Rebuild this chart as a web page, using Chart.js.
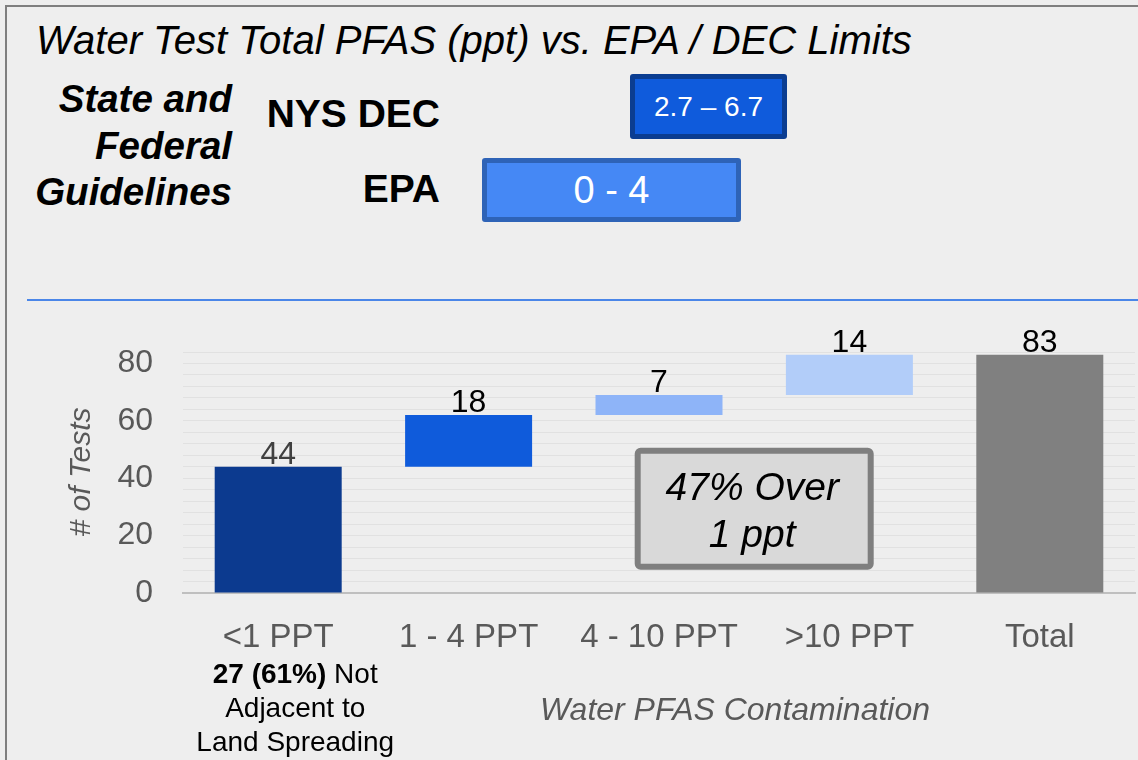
<!DOCTYPE html>
<html>
<head>
<meta charset="utf-8">
<title>Water Test Total PFAS</title>
<script src="https://cdn.jsdelivr.net/npm/chart.js@4/dist/chart.umd.min.js"></script>
<style>
  html, body { margin: 0; padding: 0; background: #eeeeee; }
  body { width: 1138px; height: 760px; position: relative; overflow: hidden;
         font-family: "Liberation Sans", Arial, sans-serif; }
  #frame { position: absolute; left: 5px; top: 5px; width: 1200px; height: 800px;
           border: 2px solid #7f7f7f; box-sizing: border-box; }
  #chart { position: absolute; left: 0; top: 0; }
  .txt { position: absolute; white-space: nowrap; color: #000; }
  #title { left: 36px; top: 20px; font-size: 40px; line-height: 40px; font-style: italic; }
  #guide { right: 906px; top: 76px; font-size: 38.5px; line-height: 46.5px;
           font-weight: bold; font-style: italic; text-align: right; }
  .agency { right: 698px; font-size: 39px; line-height: 39px; font-weight: bold; }
  .range { position: absolute; box-sizing: border-box; border-radius: 3px; color: #fff;
           display: flex; align-items: center; justify-content: center; }
  #decBox { left: 630px; top: 74px; width: 157px; height: 65px; border: 5px solid #0b3d91;
            background: #0f5bdc; font-size: 28px; }
  #epaBox { left: 482px; top: 158px; width: 259px; height: 64px; border: 5px solid #2e63b7;
            background: #4588f5; font-size: 38px; }
  #divider { position: absolute; left: 27px; top: 299px; width: 1111px; height: 2px; background: #4a86e8; }
</style>
</head>
<body>
<div id="frame"></div>
<div id="title" class="txt">Water Test Total PFAS (ppt) vs. EPA / DEC Limits</div>
<div id="guide" class="txt">State and<br>Federal<br>Guidelines</div>
<div class="txt agency" style="top:94px">NYS DEC</div>
<div class="txt agency" style="top:169px">EPA</div>
<div id="decBox" class="range">2.7 – 6.7</div>
<div id="epaBox" class="range">0 - 4</div>
<div id="divider"></div>
<canvas id="chart" width="1138" height="760"></canvas>

<script>
// Données du graphique en cascade
const categories = ['<1 PPT', '1 - 4 PPT', '4 - 10 PPT', '>10 PPT', 'Total'];
const testCounts = [44, 18, 7, 14, 83];
const isTotal = [false, false, false, false, true];
const yTickLabels = [0, 20, 40, 60, 80];
const noteBold = '27 (61%)';
const noteLines = [' Not', 'Adjacent to', 'Land Spreading'];
const calloutLines = ['47% Over', '1 ppt'];
const xTitle = 'Water PFAS Contamination';
const yTitle = '# of Tests';

const barColors = ['#0c3a8f', '#0f5bdb', '#8eb4f8', '#b2cdf9', '#808080'];
const labelColors = ['#404040', '#000', '#000', '#000', '#000'];
const FONT = '"Liberation Sans", Arial, sans-serif';

// Barres flottantes : chaque palier commence où le précédent s'arrête
let running = 0;
const floatingBars = testCounts.map((v, i) => {
    if (isTotal[i]) return [0, v];
    const bar = [running, running + v];
    running += v;
    return bar;
});

/**
 * Étiquettes, encadré et titres d'axes dessinés par-dessus le graphique
 */
const annotations = {
    id: 'annotations',
    afterDatasetsDraw(chart) {
        const ctx = chart.ctx;
        const x = chart.scales.x;
        const y = chart.scales.y;
        const meta = chart.getDatasetMeta(0);
        ctx.save();

        // Valeurs au-dessus des barres
        ctx.font = '32px ' + FONT;
        ctx.textAlign = 'center';
        ctx.textBaseline = 'alphabetic';
        meta.data.forEach((bar, i) => {
            ctx.fillStyle = labelColors[i];
            ctx.fillText(String(testCounts[i]), bar.x, Math.min(bar.y, bar.base) - 3);
        });

        // Encadré "47% Over 1 ppt"
        const cx = x.getPixelForValue(2.5);
        const cy = y.getPixelForValue(29.4);
        const bw = 239, bh = 122;
        ctx.beginPath();
        ctx.roundRect(cx - bw / 2 + 3, cy - bh / 2 + 3, bw - 6, bh - 6, 3);
        ctx.fillStyle = '#d9d9d9';
        ctx.fill();
        ctx.lineWidth = 6;
        ctx.strokeStyle = '#7f7f7f';
        ctx.stroke();
        ctx.fillStyle = '#000';
        ctx.font = 'italic 39px ' + FONT;
        ctx.fillText(calloutLines[0], cx - 2, cy - 9);
        ctx.fillText(calloutLines[1], cx - 2, cy + 38);

        // Note sous la première catégorie
        const nx = x.getPixelForValue(0) + 17;
        ctx.font = 'bold 28px ' + FONT;
        const wb = ctx.measureText(noteBold).width;
        ctx.font = '28px ' + FONT;
        const wn = ctx.measureText(noteLines[0]).width;
        ctx.textAlign = 'left';
        ctx.font = 'bold 28px ' + FONT;
        ctx.fillText(noteBold, nx - (wb + wn) / 2, 683);
        ctx.font = '28px ' + FONT;
        ctx.fillText(noteLines[0], nx - (wb + wn) / 2 + wb, 683);
        ctx.textAlign = 'center';
        ctx.fillText(noteLines[1], nx, 717);
        ctx.fillText(noteLines[2], nx, 751);

        // Titre de l'axe X
        ctx.fillStyle = '#595959';
        ctx.font = 'italic 32px ' + FONT;
        ctx.fillText(xTitle, 735, 720);

        // Titre de l'axe Y (vertical)
        ctx.translate(90, 472);
        ctx.rotate(-Math.PI / 2);
        ctx.font = 'italic 30px ' + FONT;
        ctx.fillText(yTitle, 0, 0);

        ctx.restore();
    }
};

new Chart(document.getElementById('chart'), {
    type: 'bar',
    data: {
        labels: categories,
        datasets: [{
            data: floatingBars,
            backgroundColor: barColors,
            borderWidth: 0,
            categoryPercentage: 1,
            barPercentage: 0.667
        }]
    },
    options: {
        responsive: false,
        animation: false,
        devicePixelRatio: 1,
        layout: { padding: { top: 352, right: 3, bottom: 0, left: 0 } },
        plugins: {
            legend: { display: false },
            tooltip: { enabled: false }
        },
        scales: {
            x: {
                afterFit(scale) { scale.height = 167; },
                grid: { display: false, drawTicks: false },
                border: { display: true, color: '#bfbfbf', width: 2 },
                ticks: {
                    color: '#595959',
                    font: { family: FONT, size: 33 },
                    padding: 25,
                    maxRotation: 0,
                    autoSkip: false
                }
            },
            y: {
                min: 0,
                max: 84,
                afterFit(scale) { scale.width = 183; },
                grid: { color: '#e1e1e1', drawTicks: false },
                border: { display: false },
                ticks: {
                    stepSize: 4,
                    autoSkip: false,
                    color: '#595959',
                    font: { family: FONT, size: 32 },
                    padding: 30,
                    callback: v => yTickLabels.includes(v) ? v : ''
                }
            }
        }
    },
    plugins: [annotations]
});
</script>
</body>
</html>
